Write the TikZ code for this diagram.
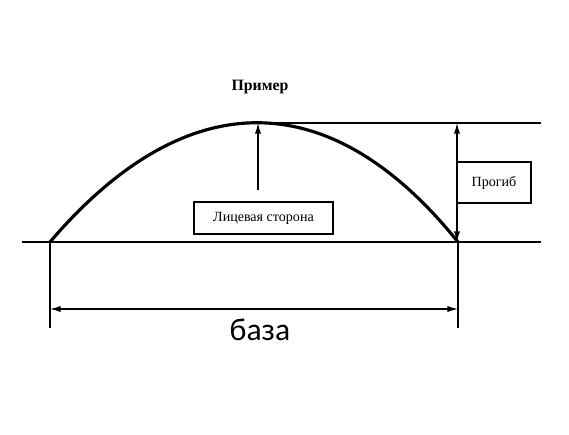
\documentclass[tikz,border=0pt]{standalone}
\usepackage{fontspec}
\setmainfont{Liberation Serif}
\newfontfamily\bazafont{Carlito}
\usetikzlibrary{arrows.meta}
\begin{document}
\begin{tikzpicture}
  [x=0.02cm, y=-0.02cm,
   thinline/.style = {line width=0.6pt},
   dimline/.style = {line width=0.7pt,
                     {Latex[length=6pt,width=3.5pt]}-{Latex[length=6pt,width=3.5pt]}},
   labelbox/.style = {draw, line width=0.6pt, inner sep=0pt,
                      font=\fontsize{8}{9}\selectfont}]
  \useasboundingbox (0,0) rectangle (569,435);
  % Arc end points and top
  \coordinate (A) at (50,242);
  \coordinate (B) at (458,242);
  \coordinate (P) at (258,123);
  % Base line and top line
  \coordinate (base west) at (22,242);
  \coordinate (base east) at (541,242);
  \coordinate (top east) at (541,123);
  \draw[thinline] (base west) -- (base east);
  \draw[thinline] (P) -- (top east);
  % Arc
  \draw[line width=1.8pt] (A) .. controls (186,83) and (330,83) .. (B);
  % Title
  \node[font=\fontsize{9}{10}\selectfont\bfseries] (title) at (260,87) {Пример};
  % Face side
  \node[labelbox, minimum width=2.78cm, minimum height=0.64cm]
    (face) at (263.5,218) {Лицевая сторона};
  \coordinate (face arrow) at (258,190);
  \draw[line width=0.7pt, -{Latex[length=6pt,width=3.5pt]}] (face arrow) -- (P);
  % Sag
  \coordinate (sag top) at (457,123);
  \coordinate (sag bottom) at (457,242);
  \draw[dimline] (sag top) -- (sag bottom);
  \node[labelbox, minimum width=1.48cm, minimum height=0.82cm]
    (sag) at (494,182.5) {Прогиб};
  % Base
  \coordinate (A ext) at (50,328);
  \coordinate (B ext) at (458,328);
  \draw[thinline] (A) -- (A ext);
  \draw[thinline] (B) -- (B ext);
  \coordinate (dim west) at (50,309);
  \coordinate (dim east) at (458,309);
  \draw[dimline] (dim west) -- (dim east);
  \node[font=\bazafont\fontsize{18}{20}\selectfont] (baza) at (260,330) {база};
\end{tikzpicture}
\end{document}
